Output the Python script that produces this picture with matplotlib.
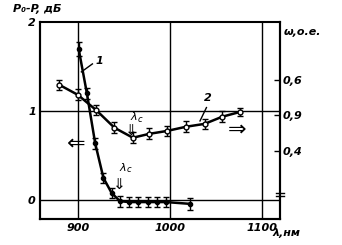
import numpy as np
import matplotlib
matplotlib.use('Agg')
import matplotlib.pyplot as plt

# curve 1: loss difference, dB (left axis)
lam1 = [901, 910, 919, 928, 937, 946, 956, 966, 976, 986, 996, 1022]
dp1 = [1.70, 1.20, 0.64, 0.25, 0.08, -0.01, -0.02, -0.02, -0.02, -0.02, -0.02, -0.04]
err1 = [0.08, 0.06, 0.06, 0.06, 0.06, 0.06, 0.06, 0.06, 0.06, 0.06, 0.06, 0.07]

# curve 2: w, rel. units (right axis)
lam2 = [880, 900, 920, 940, 960, 978, 997, 1018, 1038, 1057, 1077]
w2 = [0.586, 0.558, 0.515, 0.465, 0.437, 0.448, 0.456, 0.468, 0.476, 0.496, 0.510]
err2 = [0.015, 0.015, 0.015, 0.015, 0.015, 0.015, 0.015, 0.015, 0.015, 0.015, 0.012]

xticks = [900, 1000, 1100]
xtick_labels = ['900', '1000', '1100']
yticks = [0, 1, 2]
ytick_labels = ['0', '1', '2']
rticks = [0.6, 0.5, 0.4]
rtick_labels = ['0,6', '0,9', '0,4']

fnt = dict(fontstyle='italic', fontweight='bold', fontsize=8)

fig = plt.figure(figsize=(3.42, 2.45), dpi=100)
ax = fig.add_axes([40/342, 26/245, 240/342, 197/245])
ax.set_xlim(859, 1120)
ax.set_ylim(-0.21, 2.0)

for x in xticks:
	ax.axvline(x, color='k', lw=1.0, zorder=1)
for y in [0, 1]:
	ax.axhline(y, color='k', lw=1.0, zorder=1)

ax.errorbar(lam1, dp1, yerr=err1, color='k', lw=1.8, marker='o', ms=3,
	mfc='k', capsize=2.5, elinewidth=1.0, capthick=1.0, zorder=3)

ax.set_xticks(xticks)
ax.set_xticklabels(xtick_labels, **fnt)
ax.set_yticks(yticks)
ax.set_yticklabels(ytick_labels, **fnt)
ax.tick_params(length=0, pad=3)
for s in ax.spines.values():
	s.set_linewidth(1.5)

ax2 = ax.twinx()
ax2.set_ylim(0.208, 0.763)
ax2.errorbar(lam2, w2, yerr=err2, color='k', lw=1.8, marker='o', ms=3.5,
	mfc='white', capsize=2.5, elinewidth=1.0, capthick=1.0, zorder=3)
ax2.set_yticks(rticks)
ax2.set_yticklabels(rtick_labels, **fnt)
ax2.tick_params(direction='in', length=4, width=1.0, pad=2)
for s in ax2.spines.values():
	s.set_linewidth(1.5)
ax2.spines['top'].set_visible(False)

# break mark on right axis
for yb in [0.13, 0.115]:
	ax.plot([0.982, 1.018], [yb, yb], transform=ax.transAxes, color='k',
		lw=1.0, clip_on=False)

# labels
fig.text(13/342, 1 - 9/245, 'P₀-P, дБ', ha='left', va='center', **fnt)
fig.text(284/342, 1 - 32/245, 'ω,о.е.', ha='left', va='center', **fnt)
fig.text(272/342, 1 - 233/245, 'λ,нм', ha='left', va='center', **fnt)

# annotations
ax.plot([904, 916], [1.44, 1.53], color='k', lw=1.0)
ax.text(919, 1.56, '1', ha='left', va='center', **fnt)
ax.plot([1033, 1040], [0.89, 1.04], color='k', lw=1.0)
ax.text(1042, 1.15, '2', ha='center', va='center', **fnt)
ax.text(961, 0.93, 'λ', ha='center', va='center', fontstyle='italic', fontsize=8)
ax.text(965, 0.91, 'c', ha='left', va='center', fontstyle='italic', fontsize=6)
ax.text(958, 0.78, '⇓', ha='center', va='center', fontsize=11)
ax.text(949, 0.36, 'λ', ha='center', va='center', fontstyle='italic', fontsize=8)
ax.text(953, 0.34, 'c', ha='left', va='center', fontstyle='italic', fontsize=6)
ax.text(945, 0.18, '⇓', ha='center', va='center', fontsize=11)
ax.text(898, 0.64, '⇐', ha='center', va='center', fontsize=16)
ax.text(1073, 0.79, '⇒', ha='center', va='center', fontsize=16)

fig.savefig('out.png', dpi=100)
